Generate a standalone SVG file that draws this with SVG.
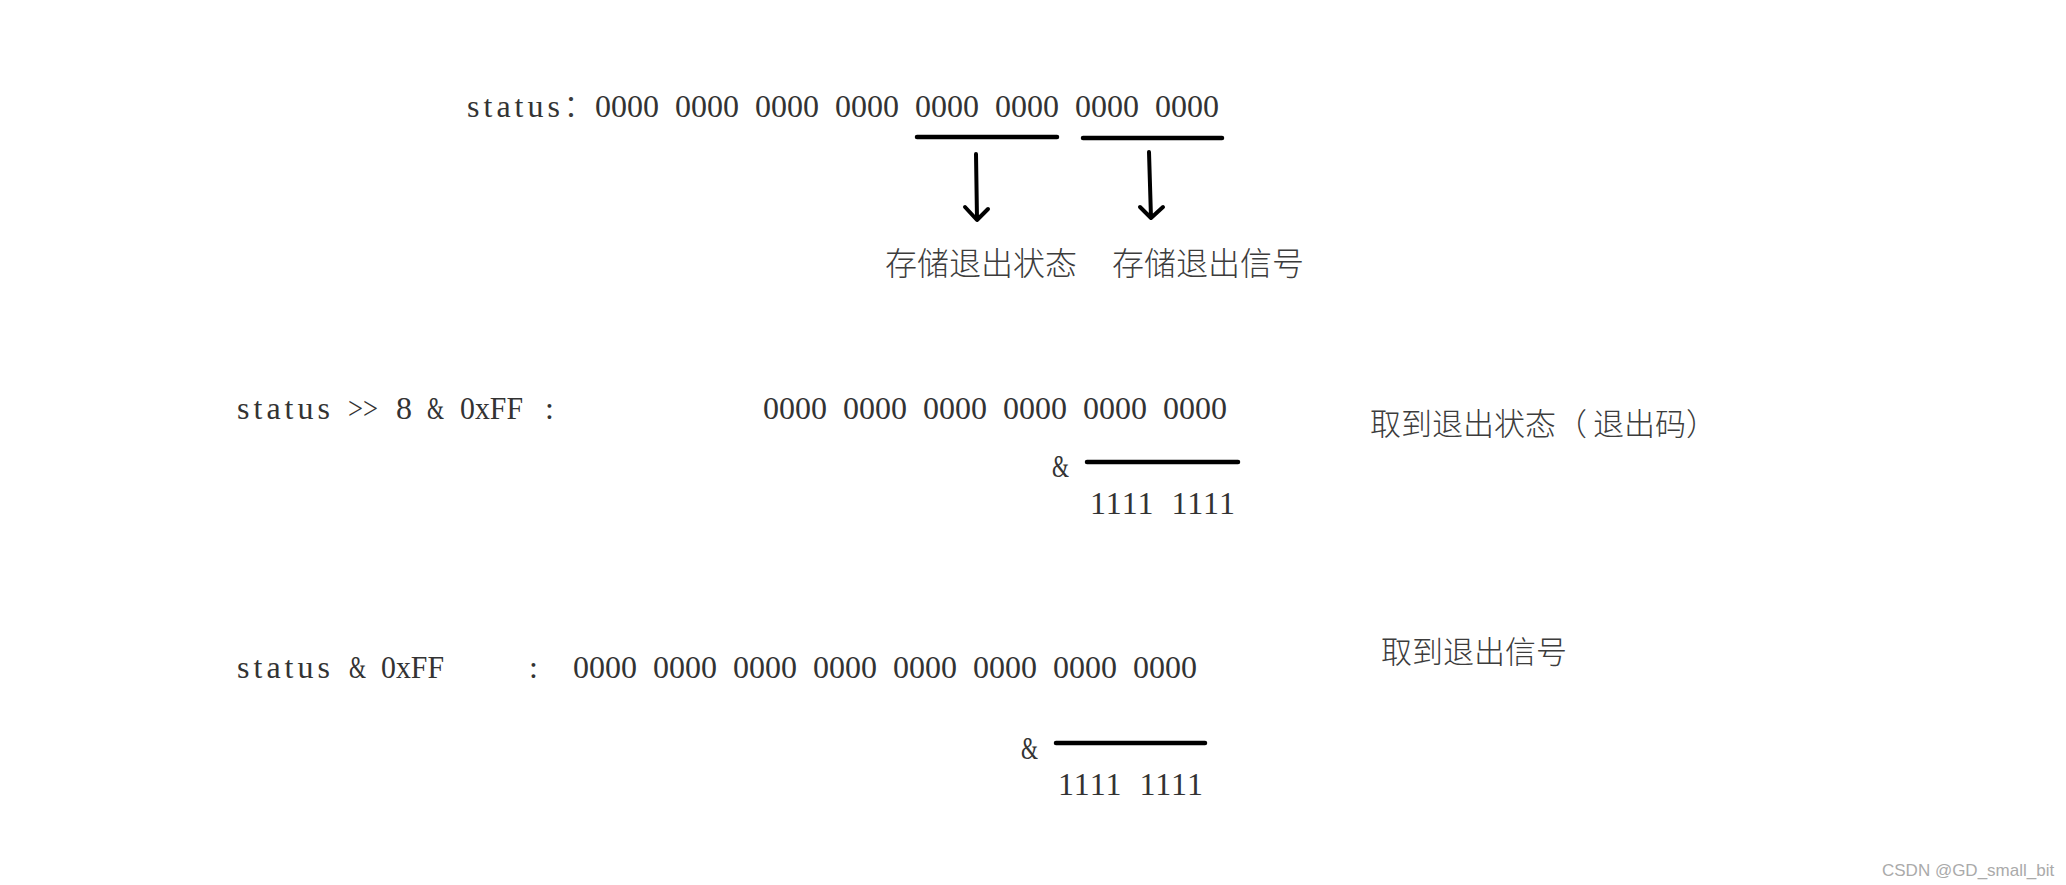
<svg xmlns="http://www.w3.org/2000/svg" width="2066" height="885" viewBox="0 0 2066 885">
<style>
.t{font-family:"Liberation Serif","Noto Sans CJK SC",serif;font-size:32px;fill:#333}
.d{font-family:"Liberation Serif",serif;font-size:32px;fill:#333;word-spacing:8px}
.one{letter-spacing:1px}
.cjk{font-family:"Noto Sans CJK SC","Noto Sans CJK JP",sans-serif;fill:#3c3c3c;font-weight:300}
.ln{stroke:#000;stroke-width:4.5;stroke-linecap:round;fill:none}
.ar{stroke:#000;stroke-width:4;stroke-linecap:round;stroke-linejoin:round;fill:none}
.wm{font-family:"Liberation Sans",Arial,sans-serif;font-size:17px;fill:#aaa}
</style>
<rect width="2066" height="885" fill="#fff"/>
<g id="row1">
<text class="t" x="467" y="117" textLength="93" lengthAdjust="spacing">status</text>
<text class="cjk" x="563" y="117" font-size="32">：</text>
<text class="d" x="595" y="117">0000 0000 0000 0000 0000 0000 0000 0000</text>
</g>
<g id="label-exit-status">
<text class="cjk" x="885" y="275" font-size="32">存储退出状态</text>
</g>
<g id="label-exit-signal">
<text class="cjk" x="1112" y="275" font-size="32">存储退出信号</text>
</g>
<g id="row2">
<text class="t" x="237" y="419" textLength="93" lengthAdjust="spacing">status</text>
<text class="t" x="348" y="419" textLength="30" lengthAdjust="spacingAndGlyphs">&gt;&gt;</text>
<text class="d" x="396" y="419">8</text>
<text class="t" x="427" y="419" textLength="17" lengthAdjust="spacingAndGlyphs">&amp;</text>
<text class="t" x="460" y="419" textLength="63" lengthAdjust="spacingAndGlyphs">0xFF</text>
<text class="t" x="545" y="419">:</text>
<text class="d" x="763" y="419">0000 0000 0000 0000 0000 0000</text>
<text class="t" x="1052" y="477" textLength="17" lengthAdjust="spacingAndGlyphs">&amp;</text>
<text class="d one" x="1090" y="514">1111 1111</text>
</g>
<g id="label-row2">
<text class="cjk" y="435" font-size="31"><tspan x="1370">取到退出状态（</tspan><tspan x="1593">退出码）</tspan></text>
</g>
<g id="row3">
<text class="t" x="237" y="678" textLength="93" lengthAdjust="spacing">status</text>
<text class="t" x="349" y="678" textLength="17" lengthAdjust="spacingAndGlyphs">&amp;</text>
<text class="t" x="381" y="678" textLength="63" lengthAdjust="spacingAndGlyphs">0xFF</text>
<text class="t" x="529" y="678">:</text>
<text class="d" x="573" y="678">0000 0000 0000 0000 0000 0000 0000 0000</text>
<text class="t" x="1021" y="759" textLength="17" lengthAdjust="spacingAndGlyphs">&amp;</text>
<text class="d one" x="1058" y="795">1111 1111</text>
</g>
<g id="label-row3">
<text class="cjk" x="1381" y="663" font-size="31">取到退出信号</text>
</g>
<g id="connectors">
<line class="ln" x1="917" y1="137" x2="1057" y2="137"/>
<line class="ln" x1="1083" y1="138" x2="1222" y2="138"/>
<path class="ar" d="M976 154 L977 219 M965 207 L977 220 L988 209"/>
<path class="ar" d="M1149 152 L1151 218 M1140 207 L1151 218 L1163 207"/>
<line class="ln" x1="1087" y1="462" x2="1238" y2="462"/>
<line class="ln" x1="1056" y1="743" x2="1205" y2="743"/>
</g>
<text class="wm" x="1882" y="876">CSDN @GD_small_bit</text>
</svg>
